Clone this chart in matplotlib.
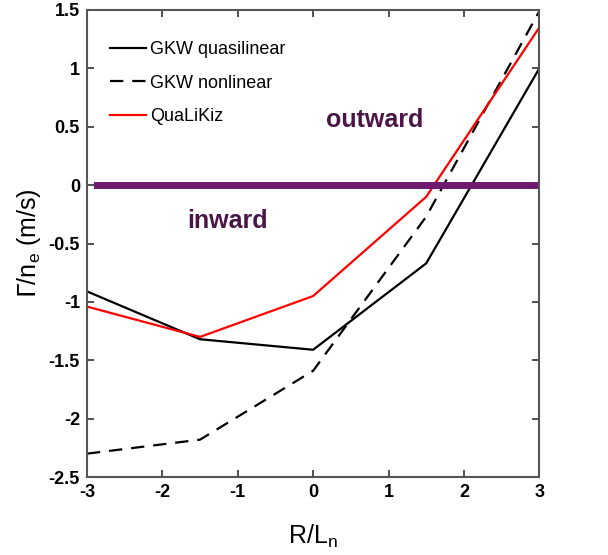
import matplotlib
matplotlib.use("Agg")
import matplotlib.pyplot as plt

plt.rcParams["font.family"] = ["Liberation Sans", "DejaVu Sans"]

rln = [-3, -1.5, 0, 1.5, 3]
gkw_ql = [-0.91, -1.32, -1.41, -0.67, 1.0]
gkw_nl = [-2.3, -2.18, -1.59, -0.27, 1.49]
qlk = [-1.04, -1.30, -0.95, -0.10, 1.35]

zero_x = [-2.87, 2.95]
zero_y = [0, 0]

fig = plt.figure(figsize=(6.08, 5.55), dpi=100)
ax = fig.add_axes([0.143, 0.1405, 0.744, 0.8415])

ax.plot(rln, gkw_ql, "k-", linewidth=1.6, label="GKW quasilinear")
ax.plot(rln, gkw_nl, "k--", linewidth=1.6, dashes=(6, 4), label="GKW nonlinear")
ax.plot(rln, qlk, "r-", linewidth=1.6, label="QuaLiKiz")
ax.plot(zero_x, zero_y, color="#6e1a6e", linewidth=5)

ax.text(0.82, 0.56, "outward", color="#4a1648", fontsize=18,
        fontweight="bold", ha="center", va="center")
ax.text(-1.14, -0.31, "inward", color="#4a1648", fontsize=18,
        fontweight="bold", ha="center", va="center")

ax.set_xlim(-3, 3)
ax.set_ylim(-2.5, 1.5)
ax.set_xticks([-3, -2, -1, 0, 1, 2, 3])
ax.set_xticklabels(["-3", "-2", "-1", "0", "1", "2", "3"])
ax.set_yticks([-2.5, -2, -1.5, -1, -0.5, 0, 0.5, 1, 1.5])
ax.set_yticklabels(["-2.5", "-2", "-1.5", "-1", "-0.5", "0", "0.5", "1", "1.5"])
ax.tick_params(direction="in", top=True, right=True, length=5, pad=5,
               labelsize=13, colors="#333333", labelcolor="black", width=1.2)
for lab in ax.get_xticklabels() + ax.get_yticklabels():
    lab.set_fontweight("bold")
for s in ax.spines.values():
    s.set_color("#555555")
    s.set_linewidth(1.5)

ax.set_xlabel("R/L$_\\mathregular{n}$", fontsize=18, labelpad=16)
ax.set_ylabel("$\\Gamma$/n$_\\mathregular{e}$ (m/s)", fontsize=18, labelpad=4)

leg = ax.legend(loc="upper left", bbox_to_anchor=(0.035, 0.948),
                frameon=False, fontsize=13, borderaxespad=0,
                handlelength=2.0, handletextpad=0.2, labelspacing=0.9)

fig.savefig("out.png", dpi=100)
